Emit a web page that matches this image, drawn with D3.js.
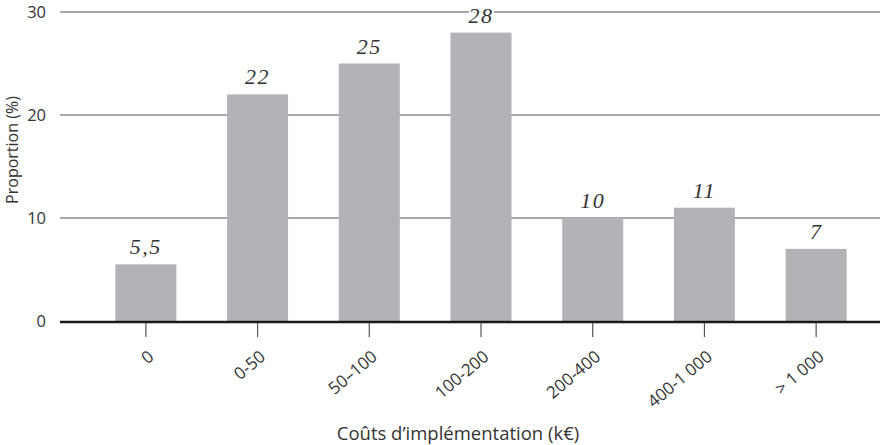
<!DOCTYPE html>
<html><head><meta charset="utf-8">
<script src="https://cdn.jsdelivr.net/npm/d3@7"></script>
<style>body{margin:0;background:#fff}svg{display:block}</style>
</head><body>
<script>
const categories = ["0","0-50","50–100","100-200","200-400","400-1 000","> 1 000"];
const values = [5.5, 22, 25, 28, 10, 11, 7];
const valueLabels = ["5,5","22","25","28","10","11","7"];
const yTicks = [0, 10, 20, 30];
const yTitle = "Proportion (%)";
const xTitle = "Coûts d’implémentation (k€)";

const W = 880, H = 445;
const svg = d3.select("body").append("svg").attr("width", W).attr("height", H);
const sans = "'Open Sans', 'Noto Sans', sans-serif";

const y = d3.scaleLinear().domain([0, 30]).range([321, 12]);
const x = d3.scaleBand().domain(categories).range([90, 872]).paddingInner(0.454).paddingOuter(0.227);

// gridlines
svg.append("g").selectAll("line").data(yTicks.filter(d => d > 0)).join("line")
  .attr("x1", 60).attr("x2", 880).attr("y1", d => y(d)).attr("y2", d => y(d))
  .attr("stroke", "#8a8a8a").attr("stroke-width", 1.4);

// y tick labels
svg.append("g").selectAll("text").data(yTicks).join("text")
  .attr("x", 46).attr("y", d => y(d)).attr("dy", "0.36em")
  .attr("text-anchor", "end").attr("font-family", sans).attr("font-weight", 400)
  .attr("font-size", 16.5).attr("fill", "#333").text(d => d);

// bars
svg.append("g").selectAll("rect").data(values).join("rect")
  .attr("x", (d, i) => x(categories[i])).attr("width", x.bandwidth())
  .attr("y", d => y(d)).attr("height", d => y(0) - y(d))
  .attr("fill", "#b2b3b6");

// baseline axis
svg.append("line").attr("x1", 60).attr("x2", 880).attr("y1", y(0) + 1).attr("y2", y(0) + 1)
  .attr("stroke", "#1a1a1a").attr("stroke-width", 2.6);

// x ticks
svg.append("g").selectAll("line").data(categories).join("line")
  .attr("x1", d => x(d) + x.bandwidth() / 2).attr("x2", d => x(d) + x.bandwidth() / 2)
  .attr("y1", y(0) + 2).attr("y2", y(0) + 16)
  .attr("stroke", "#555").attr("stroke-width", 1.2);

// x labels rotated
svg.append("g").selectAll("text").data(categories).join("text")
  .attr("transform", d => `translate(${x(d) + x.bandwidth() / 2 + 9},${y(0) + 37.5}) rotate(-40)`)
  .attr("text-anchor", "end").attr("font-family", sans).attr("font-weight", 400)
  .attr("font-size", 17).attr("fill", "#333").text(d => d);

// value labels
svg.append("g").selectAll("text").data(values).join("text")
  .attr("x", (d, i) => x(categories[i]) + x.bandwidth() / 2)
  .attr("y", d => y(d) - 10)
  .attr("text-anchor", "middle").attr("font-family", "'Liberation Serif', 'DejaVu Serif', serif")
  .attr("font-style", "italic").attr("font-size", 22).attr("letter-spacing", 1.5).attr("fill", "#333")
  .attr("stroke", "#fff").attr("stroke-width", 4).attr("paint-order", "stroke")
  .text((d, i) => valueLabels[i]);

// axis titles
svg.append("text").attr("transform", "translate(17.5,150) rotate(-90)")
  .attr("text-anchor", "middle").attr("font-family", sans).attr("font-weight", 400)
  .attr("font-size", 16).attr("fill", "#333").text(yTitle);
svg.append("text").attr("x", 458).attr("y", 440)
  .attr("text-anchor", "middle").attr("font-family", sans).attr("font-weight", 400)
  .attr("font-size", 18.5).attr("fill", "#333").text(xTitle);
</script>
</body></html>
